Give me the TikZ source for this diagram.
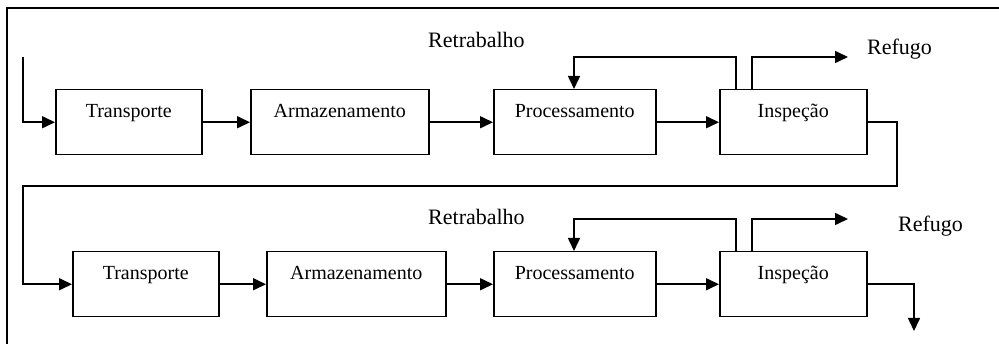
\documentclass[tikz,border=0pt]{standalone}
\usepackage{fontspec}
\setmainfont{Liberation Serif}
\usetikzlibrary{arrows.meta}
\begin{document}
\begin{tikzpicture}[x=1pt,y=-1pt,
  every node/.style={font=\fontsize{20}{24}\selectfont},
  stage/.style={draw,line width=1.5pt,inner sep=0pt,anchor=north west,
    align=center,text height=28pt,text depth=37pt},
  flow/.style={line width=1.6pt,-{Triangle[length=13pt,width=12pt]}},
  lbl/.style={anchor=base west,inner sep=0pt,font=\fontsize{22}{26}\selectfont}]
\useasboundingbox (0,0) rectangle (999,344);
% outer frame
\draw[line width=1.2pt] (7,344) -- (7,8) -- (999,8);

% first line of stages
\node[stage,minimum width=146pt] (t1) at (55,89) {Transporte};
\node[stage,minimum width=178pt] (a1) at (250,89) {Armazenamento};
\node[stage,minimum width=162pt] (p1) at (493,89) {Processamento};
\node[stage,minimum width=147pt] (i1) at (719,89) {Inspeção};
\node[lbl] (rt1) at (428,48) {Retrabalho};
\node[lbl] (rf1) at (867,55) {Refugo};

% second line of stages
\node[stage,minimum width=146pt] (t2) at (72,251) {Transporte};
\node[stage,minimum width=179pt] (a2) at (266,251) {Armazenamento};
\node[stage,minimum width=162pt] (p2) at (493,251) {Processamento};
\node[stage,minimum width=147pt] (i2) at (719,251) {Inspeção};
\node[lbl] (rt2) at (428,225) {Retrabalho};
\node[lbl] (rf2) at (898,232) {Refugo};

% flow of the first line
\coordinate (in1) at (23,57);
\draw[flow] (in1) |- (t1.west);
\draw[flow] (t1.east) -- (a1.west);
\draw[flow] (a1.east) -- (p1.west);
\draw[flow] (p1.east) -- (i1.west);
\draw[flow] ([xshift=17pt]i1.north west) -- ++(0,-32) -| ([xshift=81pt]p1.north west);
\draw[flow] ([xshift=33pt]i1.north west) -- ++(0,-32) -- ++(96,0);

% link to the second line
\coordinate (r1) at (897,186);
\coordinate (l1) at (23,186);
\draw[flow] (i1.east) -| (r1) -- (l1) |- (t2.west);

% flow of the second line
\draw[flow] (t2.east) -- (a2.west);
\draw[flow] (a2.east) -- (p2.west);
\draw[flow] (p2.east) -- (i2.west);
\draw[flow] ([xshift=17pt]i2.north west) -- ++(0,-32) -| ([xshift=81pt]p2.north west);
\draw[flow] ([xshift=33pt]i2.north west) -- ++(0,-32) -- ++(96,0);
\coordinate (out2) at (914,331);
\draw[flow] (i2.east) -| (out2);
\end{tikzpicture}
\end{document}
